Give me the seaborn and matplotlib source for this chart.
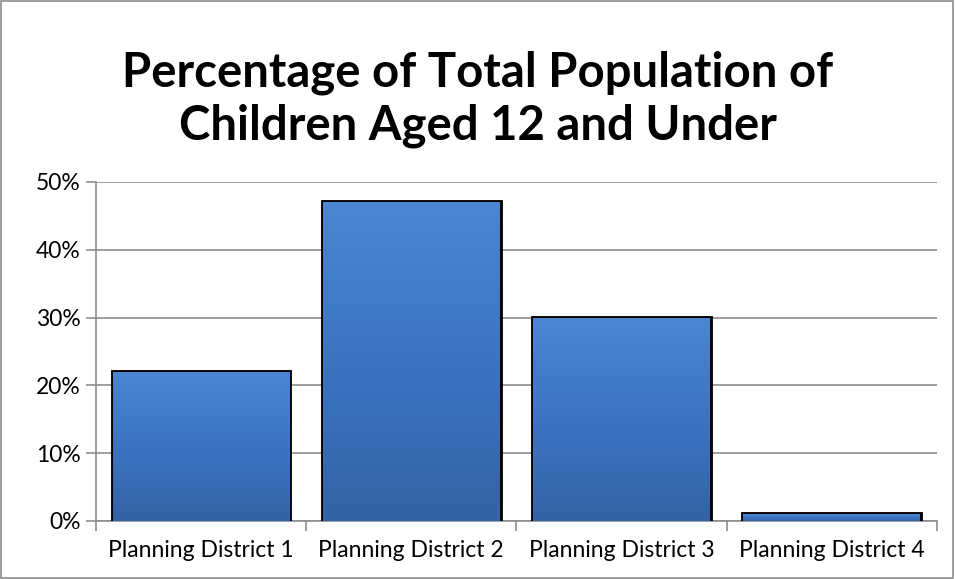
import numpy as np
import pandas as pd
import seaborn as sns
import matplotlib.pyplot as plt
from matplotlib.patches import Rectangle
from matplotlib.colors import LinearSegmentedColormap
from matplotlib.ticker import PercentFormatter

districts = ["Planning District 1", "Planning District 2", "Planning District 3", "Planning District 4"]
share = [0.22, 0.47, 0.30, 0.01]

df = pd.DataFrame({"district": districts, "share": share})

sns.set_style("white")
plt.rcParams["font.family"] = ["Lato", "DejaVu Sans"]

fig = plt.figure(figsize=(9.55, 5.79), dpi=100)
ax = fig.add_axes([0.1005, 0.1002, 0.8805, 0.5855])

sns.barplot(data=df, x="district", y="share", color="#3C74C2", width=0.84,
            edgecolor="black", linewidth=3.5, ax=ax, zorder=3)

# soft vertical gradient on each bar, clipped to the bar shape
grad = LinearSegmentedColormap.from_list("bevel", ["#3463A6", "#3C74C2", "#4A86D2"])
for bar in ax.patches:
    x0, y0 = bar.get_x(), bar.get_y()
    w, h = bar.get_width(), bar.get_height()
    img = ax.imshow(np.linspace(0, 1, 100).reshape(-1, 1), cmap=grad, aspect="auto",
                    origin="lower", extent=[x0, x0 + w, y0, y0 + h], zorder=3.5)
    img.set_clip_path(bar)

ax.set_xlim(-0.5, len(districts) - 0.5)
ax.set_ylim(0, 0.5)
ax.set_yticks(np.arange(0, 0.51, 0.1))
ax.yaxis.set_major_formatter(PercentFormatter(1.0, decimals=0))
ax.yaxis.grid(True, color="#8c8c8c", linewidth=1.2, zorder=0)
ax.set_axisbelow(True)

ax.set_xticks(np.arange(-0.5, len(districts), 1.0), minor=True)
ax.tick_params(axis="x", which="major", length=0, pad=14, labelsize=16.5, labelcolor="black")
ax.tick_params(axis="x", which="minor", length=7, width=1.2, color="#8c8c8c", direction="out", bottom=True)
ax.tick_params(axis="y", length=7, width=1.2, color="#8c8c8c", direction="out", left=True,
               labelsize=16.5, pad=4, labelcolor="black")

ax.set_xlabel("")
ax.set_ylabel("")
sns.despine(ax=ax, top=True, right=True)
for side in ["left", "bottom"]:
    ax.spines[side].set_color("#8c8c8c")
    ax.spines[side].set_linewidth(1.2)

fig.text(0.5, 0.829, "Percentage of Total Population of\nChildren Aged 12 and Under",
         ha="center", va="center", fontsize=34, fontweight="bold", linespacing=1.25, color="black")

fig.patches.append(Rectangle((0.001, 0.002), 0.997, 0.996, transform=fig.transFigure,
                             fill=False, edgecolor="#8c8c8c", linewidth=1.2))

fig.savefig("out.png", dpi=100)
